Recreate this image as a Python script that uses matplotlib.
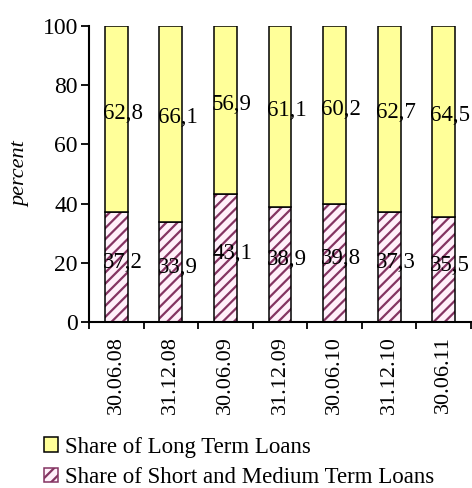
import numpy as np
import matplotlib
matplotlib.use("Agg")
import matplotlib.pyplot as plt
from matplotlib.patches import Patch

plt.rcParams['font.family'] = ['Liberation Serif', 'DejaVu Serif']
plt.rcParams['hatch.linewidth'] = 1.6
plt.rcParams['hatch.color'] = '#843462'

dates = ['30.06.08', '31.12.08', '30.06.09', '31.12.09', '30.06.10', '31.12.10', '30.06.11']
short_medium = [37.2, 33.9, 43.1, 38.9, 39.8, 37.3, 35.5]
long_term = [62.8, 66.1, 56.9, 61.1, 60.2, 62.7, 64.5]
lbl_short = 'Share of Short and Medium Term Loans'
lbl_long = 'Share of Long Term Loans'

fig = plt.figure(figsize=(4.72, 4.88), dpi=100)
ax = fig.add_axes([89/472, 1-322/488, 382/472, 296/488])

x = np.arange(len(dates))
w = 0.42
# hatched part: stripes first, black outline on top
ax.bar(x, short_medium, w, color='#fff0fa', hatch='///', edgecolor='#843462', linewidth=0)
ax.bar(x, short_medium, w, fill=False, edgecolor='black', linewidth=1.1)
ax.bar(x, long_term, w, bottom=short_medium, color='#ffff99', edgecolor='black', linewidth=1.1)

for i in range(len(dates)):
    ax.text(x[i] + 0.12, short_medium[i] / 2 + 1.5, f'{short_medium[i]:.1f}'.replace('.', ','),
            ha='center', va='center', fontsize=16.5)
    ax.text(x[i] + 0.12, short_medium[i] + long_term[i] / 2 + 2, f'{long_term[i]:.1f}'.replace('.', ','),
            ha='center', va='center', fontsize=16.5)

ax.set_xlim(-0.5, len(dates) - 0.5)
ax.set_ylim(0, 100)
ax.set_yticks([0, 20, 40, 60, 80, 100])
ax.set_xticks(x)
ax.set_xticklabels(dates, rotation=90, fontsize=16)
ax.set_xticks(np.arange(len(dates) + 1) - 0.5, minor=True)
ax.tick_params(axis='x', which='major', length=0, pad=10)
ax.tick_params(axis='x', which='minor', length=5, width=1.3, direction='out')
ax.tick_params(axis='y', length=6, width=1.3, direction='out', labelsize=17, pad=2)

ax.spines['top'].set_visible(False)
ax.spines['right'].set_visible(False)
ax.spines['left'].set_linewidth(1.5)
ax.spines['bottom'].set_linewidth(1.5)

ax.set_ylabel('percent', fontsize=16, style='italic', labelpad=9)

h_long = Patch(facecolor='#ffff99', edgecolor='black', linewidth=1.1)
h_short = Patch(facecolor='#fff0fa', edgecolor='#843462', hatch='///', linewidth=1.1)
fig.legend([h_long, h_short], [lbl_long, lbl_short], loc='lower left',
           bbox_to_anchor=(44/472, 0.0), frameon=False, fontsize=16.5,
           borderpad=0.0, borderaxespad=0,
           handlelength=0.6, handleheight=0.6, handletextpad=0.3, labelspacing=0.4)

fig.savefig('out.png', dpi=100)
